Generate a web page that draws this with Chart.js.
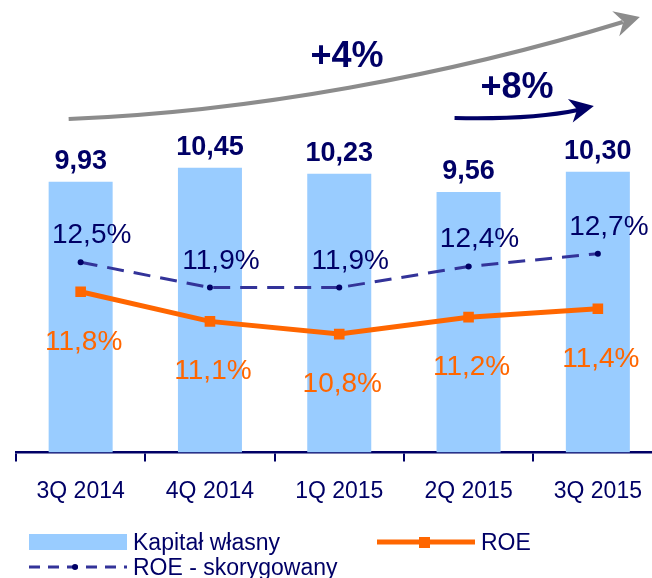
<!DOCTYPE html>
<html>
<head>
<meta charset="utf-8">
<script src="https://cdn.jsdelivr.net/npm/chart.js@4/dist/chart.umd.min.js"></script>
<style>
  html, body { margin: 0; padding: 0; overflow: hidden; background: #fff; width: 652px; height: 578px; }
  canvas { display: block; }
</style>
</head>
<body>
<canvas id="c" width="680" height="578"></canvas>
<script>
// Quarterly equity (PLN bn) with ROE and adjusted ROE (%)
const quarters = ['3Q 2014', '4Q 2014', '1Q 2015', '2Q 2015', '3Q 2015'];
const equity = [9.93, 10.45, 10.23, 9.56, 10.30];
const roe = [11.8, 11.1, 10.8, 11.2, 11.4];
const roeAdjusted = [12.5, 11.9, 11.9, 12.4, 12.7];
const growthLabels = ['+4%', '+8%'];
const seriesNames = ['Kapitał własny', 'ROE', 'ROE - skorygowany'];

const NAVY = '#000066';
const INDIGO = '#333399';
const ORANGE = '#ff6600';
const BLUE = '#99ccff';
const GREY = '#8c8c8c';
const FONT = '"Liberation Sans", Arial, sans-serif';

const fmt = (v, d) => v.toFixed(d).replace('.', ',');

// value labels above bars, below ROE points, above adjusted ROE points
const valueLabels = {
  id: 'valueLabels',
  afterDatasetsDraw(chart) {
    const ctx = chart.ctx;
    ctx.save();
    ctx.textAlign = 'center';
    ctx.textBaseline = 'alphabetic';

    ctx.font = 'bold 27px ' + FONT;
    ctx.fillStyle = NAVY;
    chart.getDatasetMeta(0).data.forEach((el, i) => {
      ctx.fillText(fmt(equity[i], 2), el.x, el.y - 13);
    });

    ctx.font = '28px ' + FONT;
    ctx.fillStyle = ORANGE;
    chart.getDatasetMeta(1).data.forEach((el, i) => {
      ctx.fillText(fmt(roe[i], 1) + '%', el.x + 3, el.y + 58);
    });

    ctx.fillStyle = NAVY;
    chart.getDatasetMeta(2).data.forEach((el, i) => {
      ctx.fillText(fmt(roeAdjusted[i], 1) + '%', el.x + 11, el.y - 19);
    });
    ctx.restore();
  }
};

function arrowHead(ctx, tipX, tipY, angle, len, half, notch) {
  ctx.save();
  ctx.translate(tipX, tipY);
  ctx.rotate(angle);
  ctx.beginPath();
  ctx.moveTo(0, 0);
  ctx.lineTo(-len, -half);
  ctx.lineTo(-len + notch, 0);
  ctx.lineTo(-len, half);
  ctx.closePath();
  ctx.fill();
  ctx.restore();
}

// growth arrows and legend
const decorations = {
  id: 'decorations',
  afterDraw(chart) {
    const ctx = chart.ctx;
    const xs = chart.scales.x;
    const cx = i => xs.getPixelForValue(i);
    ctx.save();

    // long grey arrow over the whole period
    ctx.strokeStyle = GREY;
    ctx.fillStyle = GREY;
    ctx.lineWidth = 4;
    ctx.lineCap = 'butt';
    const g0x = cx(0) - 12, gTipX = cx(4) + 42;
    ctx.beginPath();
    ctx.moveTo(g0x, 119);
    ctx.bezierCurveTo(250, 112, 450, 75, gTipX - 17, 22);
    ctx.stroke();
    arrowHead(ctx, gTipX, 17, -0.27, 25, 13, 8);

    // short navy arrow over the last quarter
    ctx.strokeStyle = NAVY;
    ctx.fillStyle = NAVY;
    const n0x = cx(3) - 14, nTipX = cx(4) - 4;
    ctx.beginPath();
    ctx.moveTo(n0x, 118);
    ctx.bezierCurveTo(500, 119, 545, 117, nTipX - 16, 110);
    ctx.stroke();
    arrowHead(ctx, nTipX, 106, -0.2, 24, 12, 7);

    ctx.font = 'bold 36px ' + FONT;
    ctx.textAlign = 'center';
    ctx.textBaseline = 'alphabetic';
    ctx.fillText(growthLabels[0], 347, 67);
    ctx.fillText(growthLabels[1], 517, 98);

    // legend
    ctx.font = '23px ' + FONT;
    ctx.textAlign = 'left';
    ctx.fillStyle = BLUE;
    ctx.fillRect(29, 534, 98, 16);
    ctx.fillStyle = NAVY;
    ctx.fillText(seriesNames[0], 133, 550);

    ctx.strokeStyle = ORANGE;
    ctx.lineWidth = 5;
    ctx.beginPath();
    ctx.moveTo(377, 542);
    ctx.lineTo(475, 542);
    ctx.stroke();
    ctx.fillStyle = ORANGE;
    ctx.fillRect(419, 537, 11, 11);
    ctx.fillStyle = NAVY;
    ctx.fillText(seriesNames[1], 481, 550);

    ctx.strokeStyle = INDIGO;
    ctx.lineWidth = 3;
    ctx.setLineDash([11, 8]);
    ctx.beginPath();
    ctx.moveTo(29, 567);
    ctx.lineTo(127, 567);
    ctx.stroke();
    ctx.setLineDash([]);
    ctx.fillStyle = NAVY;
    ctx.beginPath();
    ctx.arc(75, 567, 3, 0, Math.PI * 2);
    ctx.fill();
    ctx.fillText(seriesNames[2], 133, 575);

    ctx.restore();
  }
};

new Chart(document.getElementById('c'), {
  type: 'bar',
  data: {
    labels: quarters,
    datasets: [
      {
        type: 'bar',
        label: seriesNames[0],
        data: equity,
        backgroundColor: BLUE,
        borderWidth: 0,
        yAxisID: 'y',
        categoryPercentage: 1,
        barPercentage: 0.495,
        order: 3
      },
      {
        type: 'line',
        label: seriesNames[1],
        data: roe,
        borderColor: ORANGE,
        backgroundColor: ORANGE,
        borderWidth: 5,
        pointStyle: 'rect',
        pointRadius: 7.5,
        pointBorderWidth: 0,
        tension: 0,
        yAxisID: 'y1',
        order: 1
      },
      {
        type: 'line',
        label: seriesNames[2],
        data: roeAdjusted,
        borderColor: INDIGO,
        backgroundColor: NAVY,
        borderWidth: 3,
        borderDash: [17, 10],
        pointStyle: 'circle',
        pointRadius: 3,
        pointBorderWidth: 0,
        tension: 0,
        yAxisID: 'y1',
        order: 2
      }
    ]
  },
  options: {
    responsive: false,
    animation: false,
    devicePixelRatio: 1,
    layout: { autoPadding: false, padding: { left: 16, right: 17.5, top: 0, bottom: 0 } },
    plugins: {
      legend: { display: false },
      tooltip: { enabled: false }
    },
    scales: {
      x: {
        offset: true,
        grid: {
          offset: true,
          drawOnChartArea: false,
          drawTicks: true,
          tickLength: 9,
          color: NAVY,
          lineWidth: 2
        },
        border: { display: true, color: NAVY, width: 2.5 },
        ticks: {
          color: NAVY,
          padding: 16,
          maxRotation: 0,
          font: { family: FONT, size: 23, lineHeight: 1.2 }
        },
        afterFit(scale) { scale.height = 125.5; }
      },
      y: {
        display: false,
        min: 0,
        max: 16.6
      },
      y1: {
        display: false,
        min: 8.0,
        max: 18.7
      }
    }
  },
  plugins: [valueLabels, decorations]
});
</script>
</body>
</html>
